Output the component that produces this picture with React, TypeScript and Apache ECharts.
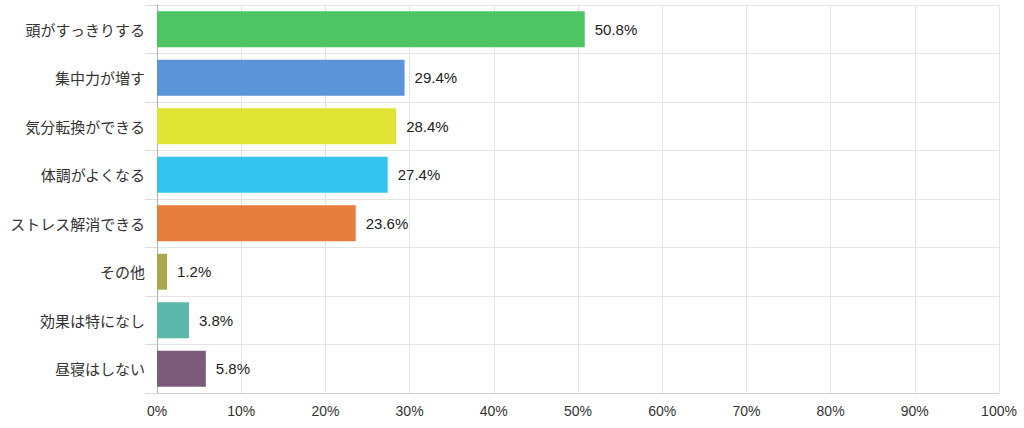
import React, { useEffect, useRef } from "react";
import * as echarts from "echarts";

const categories = [
  "頭がすっきりする",
  "集中力が増す",
  "気分転換ができる",
  "体調がよくなる",
  "ストレス解消できる",
  "その他",
  "効果は特になし",
  "昼寝はしない",
];
const values = [50.8, 29.4, 28.4, 27.4, 23.6, 1.2, 3.8, 5.8];
const colors = [
  "#4ec564",
  "#5b94d8",
  "#e0e434",
  "#35c4ee",
  "#e57d3f",
  "#a9a84c",
  "#5ab9ab",
  "#7c5b7a",
];

export default function App() {
  const ref = useRef<HTMLDivElement>(null);
  useEffect(() => {
    if (!ref.current) return;
    const chart = echarts.init(ref.current, undefined, { renderer: "svg" });
    const font = "'Noto Sans CJK JP', 'Noto Sans', sans-serif";
    chart.setOption({
      animation: false,
      grid: { left: 157, right: 25, top: 5, bottom: 35, containLabel: false },
      xAxis: {
        type: "value",
        min: 0,
        max: 100,
        interval: 10,
        axisLabel: {
          formatter: "{value}%",
          color: "#333",
          fontSize: 14,
          fontFamily: "Arial, 'Liberation Sans', sans-serif",
          margin: 11,
        },
        axisLine: { show: true, lineStyle: { color: "#d0d0d0" } },
        axisTick: { show: false },
        splitLine: { show: true, lineStyle: { color: "#e4e4e4" } },
      },
      yAxis: {
        type: "category",
        data: categories,
        inverse: true,
        axisLabel: {
          color: "#333",
          fontSize: 15,
          fontFamily: font,
          margin: 12,
        },
        axisLine: { show: true, lineStyle: { color: "#b0b0b0" } },
        axisTick: { show: true, length: 12, lineStyle: { color: "#dcdcdc" } },
        splitLine: { show: true, lineStyle: { color: "#e4e4e4" } },
      },
      series: [
        {
          type: "bar",
          data: values.map((v, i) => ({ value: v, itemStyle: { color: colors[i] } })),
          barWidth: "74%",
          label: {
            show: true,
            position: "right",
            distance: 10,
            formatter: "{c}%",
            color: "#222",
            fontSize: 15,
            fontFamily: "Arial, 'Liberation Sans', sans-serif",
          },
        },
      ],
    });
    return () => chart.dispose();
  }, []);
  return <div ref={ref} style={{ width: 1024, height: 428, position: "absolute", left: 0, top: 0 }} />;
}
